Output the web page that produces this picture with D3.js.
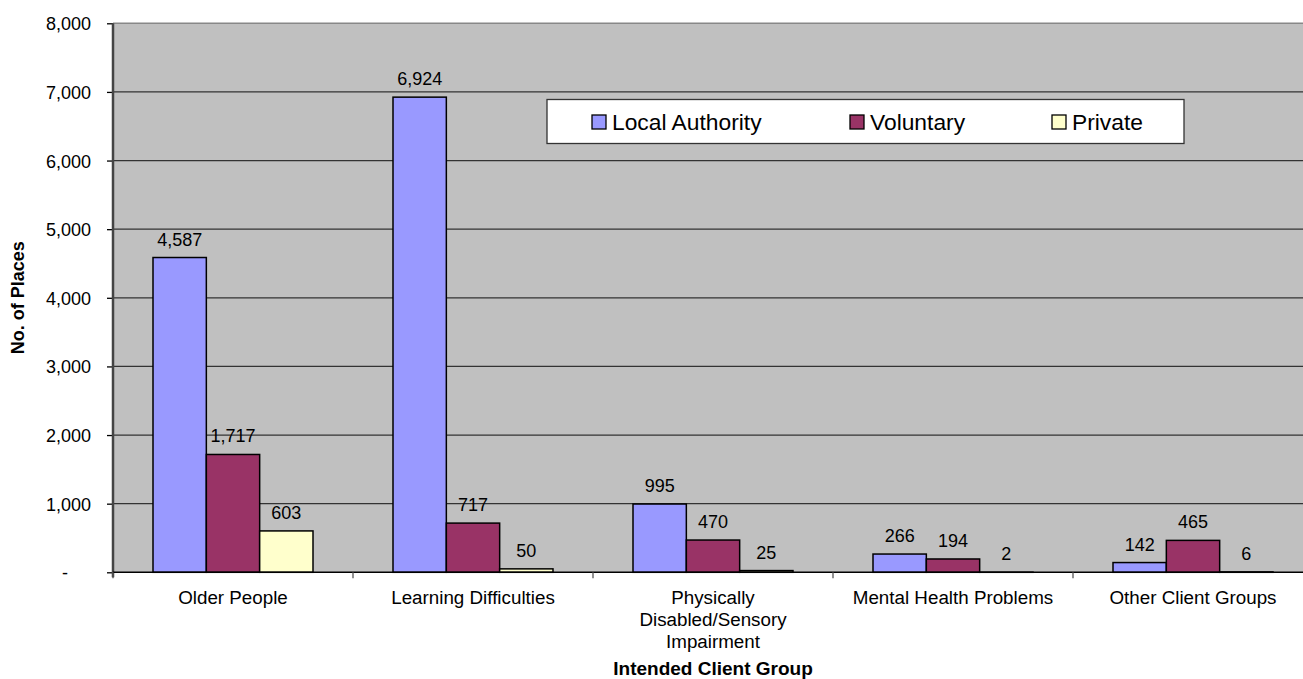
<!DOCTYPE html>
<html>
<head>
<meta charset="utf-8">
<script src="https://cdn.jsdelivr.net/npm/d3@7"></script>
<style>
  body { margin: 0; background: #fff; }
  text { font-family: Arial, "Liberation Sans", sans-serif; fill: #000; }
</style>
</head>
<body>
<div id="vis"></div>
<script>
// datos
const categories = [
  ["Older People"],
  ["Learning Difficulties"],
  ["Physically", "Disabled/Sensory", "Impairment"],
  ["Mental Health Problems"],
  ["Other Client Groups"]
];
const seriesNames = ["Local Authority", "Voluntary", "Private"];
const localAuthority = [4587, 6924, 995, 266, 142];
const voluntary = [1717, 717, 470, 194, 465];
const privateSector = [603, 50, 25, 2, 6];
const yTicks = [0, 1000, 2000, 3000, 4000, 5000, 6000, 7000, 8000];
const colors = ["#9999ff", "#993366", "#ffffcc"];

const width = 1303;
const height = 679;
const plotLeft = 113, plotTop = 23.3, plotBottom = 572.3, plotRight = 1313;

const svg = d3.select("#vis")
  .append("svg")
  .attr("width", width)
  .attr("height", height);

const catKeys = categories.map((d, i) => i);
const x = d3.scaleBand()
  .domain(catKeys)
  .range([plotLeft, plotRight])
  .paddingInner(1 / 3)
  .paddingOuter(1 / 6);

const xs = d3.scaleBand()
  .domain(d3.range(seriesNames.length))
  .range([0, x.bandwidth()]);

const y = d3.scaleLinear()
  .domain([0, 8000])
  .range([plotBottom, plotTop]);

// fondo del área de trazado
svg.append("rect")
  .attr("x", plotLeft)
  .attr("y", plotTop)
  .attr("width", plotRight - plotLeft)
  .attr("height", plotBottom - plotTop)
  .attr("fill", "#c0c0c0");

// líneas de cuadrícula
svg.selectAll("line.grid")
  .data(yTicks.filter(d => d > 0 && d < 8000))
  .enter()
  .append("line")
  .attr("class", "grid")
  .attr("x1", plotLeft)
  .attr("x2", plotRight)
  .attr("y1", d => y(d))
  .attr("y2", d => y(d))
  .attr("stroke", "#333")
  .attr("stroke-width", 1.2);

svg.append("line")
  .attr("x1", plotLeft).attr("x2", plotRight)
  .attr("y1", y(8000)).attr("y2", y(8000))
  .attr("stroke", "#888")
  .attr("stroke-width", 1.5);

// eje Y
const yAxis = svg.append("g")
  .attr("transform", `translate(${plotLeft},0)`)
  .call(d3.axisLeft(y)
    .tickValues(yTicks)
    .tickSize(6)
    .tickPadding(16)
    .tickFormat(d => d === 0 ? "-" : d3.format(",")(d)));
yAxis.select(".domain").remove();
yAxis.selectAll(".tick line").attr("stroke", "#000").attr("stroke-width", 1.3);
yAxis.selectAll(".tick text")
  .style("font-size", "18px")
  .attr("fill", "#000")
  .attr("dy", "0.36em");
yAxis.selectAll(".tick")
  .filter(d => d === 0)
  .select("text")
  .attr("x", -45);

svg.append("line")
  .attr("x1", plotLeft).attr("x2", plotLeft)
  .attr("y1", plotTop).attr("y2", plotBottom + 5)
  .attr("stroke", "#444")
  .attr("stroke-width", 2.5);

// barras
const seriesValues = [localAuthority, voluntary, privateSector];
const groups = svg.selectAll("g.cat")
  .data(catKeys)
  .enter()
  .append("g")
  .attr("class", "cat")
  .attr("transform", d => `translate(${x(d)},0)`);

groups.selectAll("rect")
  .data(c => seriesValues.map((vals, s) => ({ s, v: vals[c] })))
  .enter()
  .append("rect")
  .attr("x", d => xs(d.s))
  .attr("y", d => y(d.v))
  .attr("width", xs.bandwidth())
  .attr("height", d => plotBottom - y(d.v))
  .attr("fill", d => colors[d.s])
  .attr("stroke", "#000")
  .attr("stroke-width", 1.5);

groups.selectAll("text.val")
  .data(c => seriesValues.map((vals, s) => ({ s, v: vals[c] })))
  .enter()
  .append("text")
  .attr("class", "val")
  .attr("x", d => xs(d.s) + xs.bandwidth() / 2)
  .attr("y", d => y(d.v) - 12)
  .attr("text-anchor", "middle")
  .style("font-size", "18px")
  .text(d => d3.format(",")(d.v));

// eje X
svg.append("line")
  .attr("x1", plotLeft).attr("x2", plotRight)
  .attr("y1", plotBottom).attr("y2", plotBottom)
  .attr("stroke", "#000")
  .attr("stroke-width", 1.5);

svg.selectAll("line.xtick")
  .data(d3.range(categories.length + 1))
  .enter()
  .append("line")
  .attr("class", "xtick")
  .attr("x1", i => plotLeft + i * x.step())
  .attr("x2", i => plotLeft + i * x.step())
  .attr("y1", plotBottom)
  .attr("y2", plotBottom + 6)
  .attr("stroke", "#555")
  .attr("stroke-width", 1.3);

const catLabels = svg.selectAll("text.cat")
  .data(catKeys)
  .enter()
  .append("text")
  .attr("class", "cat")
  .attr("text-anchor", "middle")
  .style("font-size", "18.8px");

catLabels.selectAll("tspan")
  .data(c => categories[c].map(line => ({ c, line })))
  .enter()
  .append("tspan")
  .attr("x", d => x(d.c) + x.bandwidth() / 2)
  .attr("y", (d, i) => 604 + i * 22)
  .text(d => d.line);

// títulos de ejes
svg.append("text")
  .attr("x", (plotLeft + plotRight) / 2)
  .attr("y", 675)
  .attr("text-anchor", "middle")
  .style("font-size", "19px")
  .style("font-weight", "bold")
  .text("Intended Client Group");

svg.append("text")
  .attr("transform", `translate(24,${(plotTop + plotBottom) / 2}) rotate(-90)`)
  .attr("text-anchor", "middle")
  .style("font-size", "18px")
  .style("font-weight", "bold")
  .text("No. of Places");

// leyenda
const legend = svg.append("g").attr("class", "legend");
legend.append("rect")
  .attr("x", 547)
  .attr("y", 99.5)
  .attr("width", 637)
  .attr("height", 44)
  .attr("fill", "#fff")
  .attr("stroke", "#333")
  .attr("stroke-width", 1.3);

const legendX = [592, 850, 1052];
const items = legend.selectAll("g.item")
  .data(seriesNames)
  .enter()
  .append("g")
  .attr("class", "item")
  .attr("transform", (d, i) => `translate(${legendX[i]},0)`);

items.append("rect")
  .attr("x", 0)
  .attr("y", 115)
  .attr("width", 14)
  .attr("height", 14)
  .attr("fill", (d, i) => colors[i])
  .attr("stroke", "#000")
  .attr("stroke-width", 1.3);

items.append("text")
  .attr("x", 20)
  .attr("y", 130)
  .style("font-size", "22.8px")
  .text(d => d);
</script>
</body>
</html>
